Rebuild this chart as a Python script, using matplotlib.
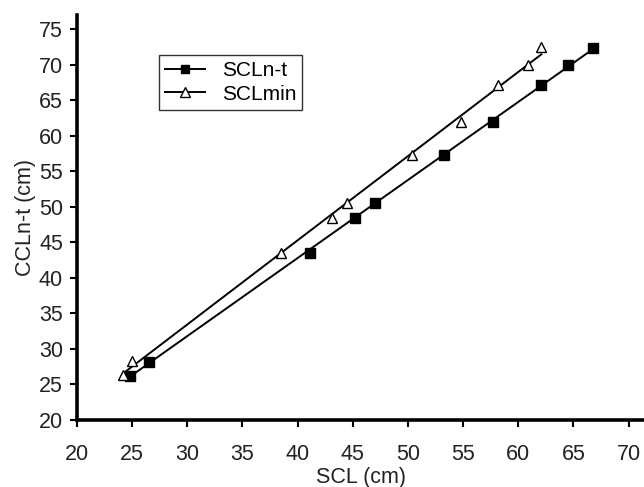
import numpy as np
import matplotlib
matplotlib.use("Agg")
import matplotlib.pyplot as plt

plt.rcParams['font.family'] = ['Liberation Sans', 'DejaVu Sans']

scl_nt_x = [24.8, 26.5, 41.1, 45.2, 47.0, 53.3, 57.7, 62.1, 64.5, 66.8]
scl_nt_y = [26.2, 28.2, 43.5, 48.5, 50.6, 57.3, 62.0, 67.1, 69.9, 72.4]
scl_min_x = [24.2, 25.0, 38.5, 43.1, 44.5, 50.4, 54.8, 58.2, 60.9, 62.1]
scl_min_y = [26.3, 28.3, 43.5, 48.5, 50.6, 57.3, 62.0, 67.1, 69.9, 72.5]
x_ticks = [20, 25, 30, 35, 40, 45, 50, 55, 60, 65, 70]
y_ticks = [20, 25, 30, 35, 40, 45, 50, 55, 60, 65, 70, 75]
labels = ["SCLn-t", "SCLmin"]

fig = plt.figure(figsize=(6.44, 4.87), dpi=100)
ax = fig.add_axes([77/644, 67/487, 1 - 77/644, 405/487])

def fit_line(xs, ys):
    xs = np.array(xs); ys = np.array(ys)
    m, b = np.polyfit(xs, ys, 1)
    xx = np.array([xs.min(), xs.max()])
    return xx, m * xx + b

for xs, ys, mk, fc, lab in [(scl_nt_x, scl_nt_y, 's', 'black', labels[0]),
                            (scl_min_x, scl_min_y, '^', 'white', labels[1])]:
    xx, yy = fit_line(xs, ys)
    ms = 6.5 if mk == 's' else 7.5
    ax.plot(xx, yy, color='black', lw=1.4, zorder=2)
    ax.plot(xs, ys, linestyle='none', marker=mk, markersize=ms,
            markerfacecolor=fc, markeredgecolor='black', markeredgewidth=1.0, zorder=3)
    ax.plot([], [], color='black', lw=1.4, marker=mk, markersize=ms - 0.5,
            markerfacecolor=fc, markeredgecolor='black', label=lab)

ax.set_xlim(20, 71.4)
ax.set_ylim(20, 77)
ax.set_xticks(x_ticks)
ax.set_yticks(y_ticks)
ax.spines['top'].set_visible(False)
ax.spines['right'].set_visible(False)
ax.spines['left'].set_linewidth(2.6)
ax.spines['bottom'].set_linewidth(2.6)
ax.tick_params(direction='out', length=5, width=1.5, labelsize=15.5, colors='black',
               labelcolor='#222222')
ax.tick_params(axis='y', pad=5)
ax.tick_params(axis='x', pad=12)
ax.set_xlabel("SCL (cm)", fontsize=15.5, color='#222222', labelpad=2)
ax.set_ylabel("CCLn-t (cm)", fontsize=15.5, color='#222222', labelpad=2)

leg = ax.legend(loc='upper left', bbox_to_anchor=(0.145, 0.901), borderaxespad=0,
                fontsize=15, frameon=True, fancybox=False, handlelength=1.9,
                borderpad=0.3, labelspacing=0.2, handletextpad=0.8)
leg.get_frame().set_edgecolor('black')
leg.get_frame().set_linewidth(1.0)

fig.savefig("out.png", dpi=100)
